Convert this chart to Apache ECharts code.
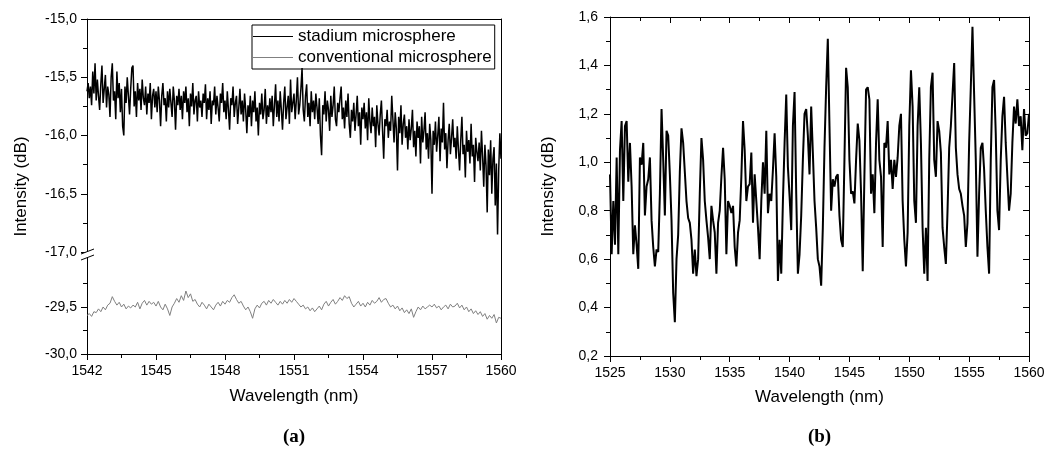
<!DOCTYPE html>
<html><head><meta charset="utf-8">
<script src="https://cdn.jsdelivr.net/npm/echarts@6/dist/echarts.min.js"></script>
<style>html,body{margin:0;padding:0;background:#fff}#c{width:1048px;height:450px}</style>
</head><body><div id="c"></div>
<script>
// ---------- data ----------
const seriesNames = ['stadium microsphere', 'conventional microsphere'];
const stadiumStart = 1542, stadiumStep = 0.05;
const stadiumValues = [
-15.62,-15.55,-15.68,-15.58,-15.74,-15.45,-15.64,-15.38,-15.70,-15.52,-15.66,-15.78,-15.56,-15.40,-15.72,-15.60,-15.48,-15.76,-15.58,-15.65,
-15.84,-15.50,-15.38,-15.70,-15.62,-15.86,-15.45,-15.68,-15.55,-15.80,-15.60,-15.92,-16.00,-15.58,-15.72,-15.50,-15.66,-15.82,-15.60,-15.42,
-15.40,-15.75,-15.62,-15.84,-15.55,-15.70,-15.60,-15.78,-15.52,-15.68,-15.74,-15.58,-15.82,-15.64,-15.72,-15.55,-15.86,-15.66,-15.60,-15.76,
-15.62,-15.80,-15.58,-15.70,-15.92,-15.66,-15.55,-15.74,-15.68,-15.88,-15.62,-15.76,-15.60,-15.72,-15.84,-15.58,-15.70,-15.95,-15.66,-15.74,
-15.60,-15.78,-15.66,-15.86,-15.62,-15.72,-15.58,-15.80,-15.68,-15.92,-15.64,-15.75,-15.55,-15.82,-15.70,-15.66,-15.88,-15.62,-15.76,-15.70,
-15.84,-15.64,-15.72,-15.56,-15.86,-15.68,-15.78,-15.62,-15.90,-15.70,-15.74,-15.58,-15.82,-15.66,-15.76,-15.88,-15.64,-15.72,-15.55,-15.80,
-15.70,-15.86,-15.62,-15.78,-15.95,-15.68,-15.74,-15.58,-15.84,-15.72,-15.66,-15.90,-15.76,-15.60,-15.82,-15.70,-15.88,-15.64,-15.78,-15.98,
-15.74,-15.84,-15.66,-15.92,-15.70,-15.80,-15.62,-15.88,-15.76,-16.00,-15.72,-15.82,-15.64,-15.86,-15.78,-15.60,-15.90,-15.74,-15.84,-15.68,
-15.80,-15.66,-15.92,-15.74,-15.56,-15.84,-15.70,-15.88,-15.62,-15.78,-15.95,-15.72,-15.58,-15.86,-15.76,-15.66,-15.90,-15.52,-15.80,-15.72,
-15.64,-15.86,-15.70,-15.50,-15.82,-15.74,-15.60,-15.42,-15.78,-15.88,-15.66,-15.56,-15.84,-15.72,-15.92,-15.62,-15.80,-15.70,-15.86,-15.64,
-15.76,-15.90,-15.68,-16.00,-16.17,-15.74,-15.82,-15.62,-15.88,-15.70,-15.78,-15.96,-15.66,-15.84,-15.74,-15.58,-15.86,-15.92,-15.72,-15.80,
-15.68,-15.58,-15.86,-15.76,-15.94,-15.70,-15.84,-15.64,-15.90,-16.02,-15.78,-15.88,-15.72,-15.96,-15.82,-15.66,-15.92,-15.80,-16.08,-15.76,
-15.86,-15.72,-15.94,-15.80,-16.04,-15.68,-15.88,-15.98,-15.76,-15.92,-15.84,-16.10,-15.74,-15.90,-16.00,-15.82,-15.70,-15.96,-16.20,-15.86,
-15.92,-15.78,-16.02,-15.88,-15.96,-15.66,-15.86,-16.06,-15.80,-15.94,-16.30,-15.84,-15.98,-15.74,-16.08,-15.90,-15.82,-16.02,-15.92,-16.12,
-15.86,-16.04,-15.94,-15.78,-16.10,-15.96,-16.18,-15.88,-16.02,-15.92,-16.24,-15.84,-16.06,-15.96,-15.80,-16.12,-15.98,-16.20,-15.90,-16.04,
-16.50,-15.96,-16.08,-15.88,-16.14,-16.00,-15.84,-16.22,-15.94,-16.06,-15.72,-16.12,-15.98,-16.28,-16.04,-15.90,-16.16,-16.02,-15.86,-16.10,
-16.02,-16.20,-15.92,-16.12,-16.30,-16.04,-15.84,-16.16,-16.08,-16.36,-15.96,-16.14,-16.04,-16.24,-15.90,-16.18,-16.08,-16.40,-16.02,-16.14,
-16.22,-16.06,-16.30,-15.96,-16.18,-16.44,-16.08,-16.26,-16.66,-16.12,-16.34,-16.04,-16.50,-16.20,-16.10,-16.60,-16.24,-16.85,-16.30,-15.98,
-16.20
];
const convStart = 1542, convStep = 0.1;
const convValues = [
-29.59,-29.57,-29.60,-29.55,-29.56,-29.52,-29.55,-29.50,-29.53,-29.48,
-29.46,-29.39,-29.44,-29.48,-29.45,-29.50,-29.47,-29.52,-29.49,-29.51,
-29.48,-29.50,-29.45,-29.52,-29.46,-29.43,-29.48,-29.44,-29.47,-29.45,
-29.49,-29.44,-29.50,-29.53,-29.47,-29.52,-29.59,-29.50,-29.46,-29.41,
-29.45,-29.38,-29.43,-29.33,-29.40,-29.36,-29.44,-29.42,-29.47,-29.50,
-29.45,-29.48,-29.52,-29.47,-29.50,-29.53,-29.48,-29.45,-29.49,-29.44,
-29.47,-29.43,-29.45,-29.40,-29.37,-29.42,-29.46,-29.44,-29.49,-29.53,
-29.50,-29.55,-29.62,-29.52,-29.48,-29.51,-29.46,-29.44,-29.48,-29.43,
-29.46,-29.42,-29.45,-29.48,-29.44,-29.47,-29.43,-29.46,-29.42,-29.45,
-29.41,-29.44,-29.47,-29.50,-29.48,-29.52,-29.50,-29.54,-29.51,-29.55,
-29.52,-29.49,-29.53,-29.47,-29.44,-29.49,-29.45,-29.42,-29.47,-29.44,
-29.40,-29.43,-29.38,-29.41,-29.39,-29.46,-29.50,-29.47,-29.44,-29.49,
-29.46,-29.50,-29.45,-29.48,-29.43,-29.46,-29.44,-29.40,-29.45,-29.42,
-29.41,-29.46,-29.50,-29.48,-29.52,-29.49,-29.54,-29.51,-29.56,-29.53,
-29.57,-29.52,-29.61,-29.55,-29.50,-29.53,-29.49,-29.52,-29.50,-29.48,
-29.50,-29.47,-29.51,-29.49,-29.53,-29.50,-29.48,-29.52,-29.47,-29.50,
-29.49,-29.46,-29.51,-29.48,-29.53,-29.50,-29.55,-29.52,-29.57,-29.54,
-29.58,-29.55,-29.60,-29.57,-29.63,-29.59,-29.62,-29.58,-29.67,-29.61,
-29.62
];
const bStart = 1525, bStep = 5 / 36;
const bValues = [
0.95,0.62,0.84,0.66,1.02,0.62,1.05,1.17,0.84,1.15,
1.17,0.92,1.08,0.90,0.62,0.74,0.66,0.56,1.02,0.99,
1.08,0.78,0.90,0.93,1.02,0.76,0.65,0.57,0.64,0.63,
0.87,1.22,1.01,0.78,1.13,1.11,0.95,0.76,0.46,0.34,
0.60,0.70,0.96,1.14,1.08,0.96,0.84,0.77,0.75,0.68,
0.54,0.64,0.53,0.60,0.87,1.10,1.01,0.84,0.76,0.69,
0.60,0.82,0.76,0.71,0.54,0.75,0.80,0.94,1.06,0.93,
0.62,0.84,0.82,0.79,0.82,0.65,0.57,0.71,0.76,0.94,
1.17,1.05,0.84,0.90,0.91,
1.04,0.75,0.95,0.84,0.73,0.60,0.84,1.00,0.87,1.13,
0.79,0.87,0.84,0.97,1.12,0.94,0.51,0.68,0.54,0.84,
1.08,1.28,0.98,0.86,0.72,1.15,1.29,0.87,0.54,0.62,
0.78,1.01,1.20,1.22,1.11,0.95,1.23,1.04,0.84,0.73,
0.60,0.57,0.49,0.73,1.06,1.31,1.51,1.15,0.80,0.93,
0.90,0.94,0.95,0.78,0.68,0.65,1.01,1.39,1.31,1.01,
0.87,0.88,0.83,1.01,1.16,1.09,0.87,0.55,0.94,1.30,
1.31,1.26,0.87,0.95,0.79,1.08,1.26,1.01,0.94,0.65,
1.08,1.06,1.17,0.95,
1.01,0.89,1.01,0.94,1.02,1.15,1.20,0.84,0.68,0.57,
0.71,1.15,1.38,1.23,0.84,0.75,1.15,1.31,1.08,0.73,
0.54,0.73,0.51,1.01,1.31,1.37,1.01,0.94,1.17,1.13,
1.04,0.73,0.65,0.58,0.80,1.06,1.15,1.28,1.41,1.06,
0.95,0.89,0.87,0.82,0.78,0.65,0.75,1.08,1.31,1.56,
1.28,1.01,0.61,0.87,1.06,1.08,0.97,0.80,0.65,0.54,
1.01,1.31,1.34,1.12,0.80,0.72,1.01,1.19,1.27,1.08,
0.94,0.80,0.87,1.08,1.23,1.16,1.26,1.15,1.19,1.05,
1.22,1.11,1.12,1.20
];
const aXRange = [1542, 1560], aXInterval = 3;
const aYUpper = [-17, -15], aYLower = [-30, -28.915], aYInterval = 0.5;
const aLowerMajorTicks = [-30, -29.5], aLowerMinorTicks = [-29.75, -29.25];
const bXRange = [1525, 1560], bXInterval = 5;
const bYRange = [0.2, 1.6], bYInterval = 0.2;

// ---------- chart ----------
const FONT = '"Liberation Sans", Arial, sans-serif';
const pairs = (start, step, vals) => vals.map((v, i) => [+(start + i * step).toFixed(4), v]);
const fmt1 = v => v.toFixed(1).replace('.', ',');
const lineCol = '#000';
const axisLine = { show: true, onZero: false, lineStyle: { color: lineCol, width: 1 } };
const tickOut = { show: true, inside: false, length: 6, lineStyle: { color: lineCol, width: 1 } };
const tickIn = { show: true, inside: true, length: 6, lineStyle: { color: lineCol, width: 1 } };
const minor = { show: true, splitNumber: 2, length: 4, lineStyle: { color: lineCol, width: 1 } };
const lab = { color: '#000', fontSize: 14, fontFamily: FONT, margin: 10 };
const nameStyle = { fontSize: 17, color: '#000', fontFamily: FONT };
const noSplit = { show: false };

const chart = echarts.init(document.getElementById('c'), null, { renderer: 'canvas' });
const option = {
  animation: false,
  backgroundColor: '#fff',
  textStyle: { fontFamily: FONT },
  legend: {
    data: seriesNames.map(n => ({ name: n, icon: 'rect' })), left: 252, top: 25, orient: 'vertical',
    itemWidth: 40, itemHeight: 1, itemGap: 4, padding: [3, 3, 3, 1],
    borderColor: '#000', borderWidth: 1, borderRadius: 0,
    textStyle: { fontSize: 17, color: '#000', fontFamily: FONT }
  },
  grid: [
    { left: 87, top: 19, width: 414, height: 233 },
    { left: 87, top: 252, width: 414, height: 102 },
    { left: 610, top: 17, width: 419, height: 339 },
    { left: 87, top: 19, width: 414, height: 335 }
  ],
  xAxis: [
    { gridIndex: 0, type: 'value', position: 'top', min: aXRange[0], max: aXRange[1], axisLine,
      axisTick: { show: false }, axisLabel: { show: false }, splitLine: noSplit },
    { gridIndex: 1, type: 'value', position: 'bottom', min: aXRange[0], max: aXRange[1], interval: aXInterval,
      axisLine, axisTick: tickOut, minorTick: minor, axisLabel: { ...lab, formatter: v => String(Math.round(v)) },
      splitLine: noSplit, minorSplitLine: noSplit,
      name: 'Wavelength (nm)', nameLocation: 'middle', nameGap: 34, nameTextStyle: nameStyle },
    { gridIndex: 2, type: 'value', position: 'bottom', min: bXRange[0], max: bXRange[1], interval: bXInterval,
      axisLine, axisTick: tickOut, minorTick: minor, axisLabel: { ...lab, formatter: v => String(Math.round(v)) },
      splitLine: noSplit, minorSplitLine: noSplit,
      name: 'Wavelength (nm)', nameLocation: 'middle', nameGap: 33, nameTextStyle: nameStyle },
    { gridIndex: 2, type: 'value', position: 'top', min: bXRange[0], max: bXRange[1], interval: bXInterval,
      axisLine, axisTick: tickIn, minorTick: minor, axisLabel: { show: false }, splitLine: noSplit },
    { gridIndex: 3, type: 'value', show: false, min: 0, max: 1 }
  ],
  yAxis: [
    { gridIndex: 0, type: 'value', position: 'left', min: aYUpper[0], max: aYUpper[1], interval: aYInterval,
      axisLine, axisTick: tickOut, minorTick: minor, axisLabel: { ...lab, formatter: fmt1 },
      splitLine: noSplit, minorSplitLine: noSplit },
    { gridIndex: 0, type: 'value', position: 'right', min: aYUpper[0], max: aYUpper[1], axisLine,
      axisTick: { show: false }, axisLabel: { show: false }, splitLine: noSplit },
    { gridIndex: 1, type: 'value', position: 'left', min: aYLower[0], max: aYLower[1], interval: aYInterval,
      axisLine, axisTick: { ...tickOut, customValues: aLowerMajorTicks },
      axisLabel: { ...lab, formatter: fmt1, customValues: aLowerMajorTicks }, splitLine: noSplit },
    { gridIndex: 1, type: 'value', position: 'right', min: aYLower[0], max: aYLower[1], axisLine,
      axisTick: { show: false }, axisLabel: { show: false }, splitLine: noSplit },
    { gridIndex: 1, type: 'value', position: 'left', min: aYLower[0], max: aYLower[1],
      axisLine: { show: false }, axisTick: { show: true, length: 4, customValues: aLowerMinorTicks, lineStyle: { color: lineCol } },
      axisLabel: { show: false }, splitLine: noSplit },
    { gridIndex: 2, type: 'value', position: 'left', min: bYRange[0], max: bYRange[1], interval: bYInterval,
      axisLine, axisTick: tickOut, minorTick: minor, axisLabel: { ...lab, margin: 12, formatter: fmt1 },
      splitLine: noSplit, minorSplitLine: noSplit,
      name: 'Intensity (dB)', nameLocation: 'middle', nameGap: 53, nameTextStyle: nameStyle },
    { gridIndex: 2, type: 'value', position: 'right', min: bYRange[0], max: bYRange[1], interval: bYInterval,
      axisLine, axisTick: tickIn, minorTick: minor, axisLabel: { show: false }, splitLine: noSplit },
    { gridIndex: 3, type: 'value', position: 'left', min: 0, max: 1,
      axisLine: { show: false }, axisTick: { show: false }, axisLabel: { show: false }, splitLine: noSplit,
      name: 'Intensity (dB)', nameLocation: 'middle', nameGap: 57, nameTextStyle: nameStyle }
  ],
  series: [
    { name: seriesNames[0], type: 'line', xAxisIndex: 0, yAxisIndex: 0, symbol: 'none',
      data: pairs(stadiumStart, stadiumStep, stadiumValues), color: '#000',
      lineStyle: { color: '#000', width: 1.5 } },
    { name: seriesNames[1], type: 'line', xAxisIndex: 1, yAxisIndex: 2, symbol: 'none',
      data: pairs(convStart, convStep, convValues), color: '#808080',
      lineStyle: { color: '#808080', width: 1 } },
    { name: 'b', type: 'line', xAxisIndex: 2, yAxisIndex: 5, symbol: 'none',
      data: pairs(bStart, bStep, bValues), color: '#000',
      lineStyle: { color: '#000', width: 2 } }
  ]
};
chart.setOption(option);

// decorations: axis break mark and panel labels
const p = chart.convertToPixel({ xAxisIndex: 0, yAxisIndex: 0 }, [aXRange[0], aYUpper[0]]);
const bx = chart.convertToPixel({ xAxisIndex: 2, yAxisIndex: 5 }, [(bXRange[0] + bXRange[1]) / 2, bYRange[0]]);
const ax = chart.convertToPixel({ xAxisIndex: 1, yAxisIndex: 2 }, [(aXRange[0] + aXRange[1]) / 2, aYLower[0]]);
chart.setOption({
  graphic: [
    { type: 'polygon', z: 100, shape: { points: [[p[0] - 6, p[1] + 2], [p[0] + 7, p[1] - 3], [p[0] + 7, p[1] + 3], [p[0] - 6, p[1] + 8]] },
      style: { fill: '#fff', stroke: null } },
    { type: 'line', z: 101, shape: { x1: p[0] - 6, y1: p[1] + 2, x2: p[0] + 7, y2: p[1] - 3 }, style: { stroke: '#000', lineWidth: 1 } },
    { type: 'line', z: 101, shape: { x1: p[0] - 6, y1: p[1] + 8, x2: p[0] + 7, y2: p[1] + 3 }, style: { stroke: '#000', lineWidth: 1 } },
    { type: 'text', z: 101, x: ax[0], y: ax[1] + 83, style: { text: '(a)', font: 'bold 19px "Liberation Serif", serif', fill: '#000', align: 'center', verticalAlign: 'middle' } },
    { type: 'text', z: 101, x: bx[0], y: bx[1] + 81, style: { text: '(b)', font: 'bold 19px "Liberation Serif", serif', fill: '#000', align: 'center', verticalAlign: 'middle' } }
  ]
});
</script>
</body></html>
